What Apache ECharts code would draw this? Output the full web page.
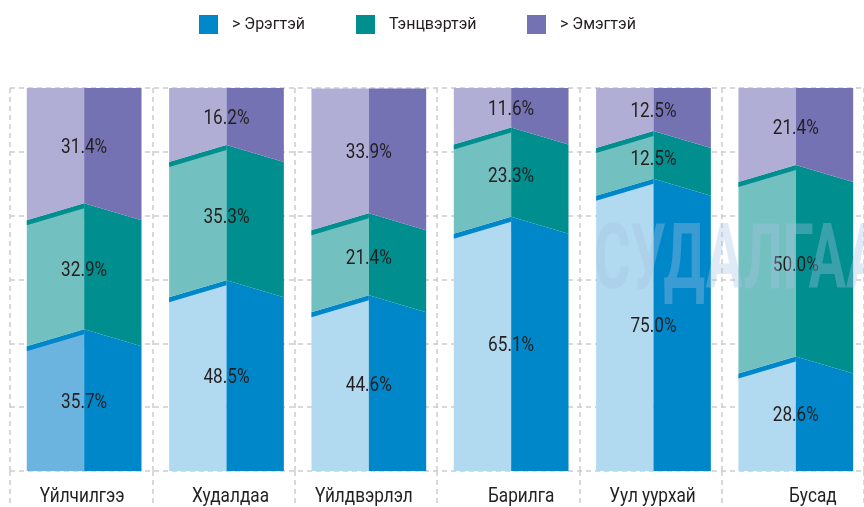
<!DOCTYPE html>
<html>
<head>
<meta charset="utf-8">
<script src="https://cdn.jsdelivr.net/npm/echarts@6/dist/echarts.min.js"></script>
<style>
  html, body { margin: 0; padding: 0; background: #fff; }
  #chart { width: 864px; height: 507px; }
</style>
</head>
<body>
<div id="chart"></div>
<script>
const categories = ['Үйлчилгээ', 'Худалдаа', 'Үйлдвэрлэл', 'Барилга', 'Уул уурхай', 'Бусад']
const seriesNames = ['> Эрэгтэй', 'Тэнцвэртэй', '> Эмэгтэй']
const maleValues = [35.7, 48.5, 44.6, 65.1, 75.0, 28.6]
const equalValues = [32.9, 35.3, 21.4, 23.3, 12.5, 50.0]
const femaleValues = [31.4, 16.2, 33.9, 11.6, 12.5, 21.4]

const font = 'Roboto, "DejaVu Sans", sans-serif'
const textColor = '#231f20'
const gridColor = '#cdcdcd'
const narrow = 0.86
const legendLefts = [199, 356, 527]
// small hand nudges of the category labels, in px
const labelNudge = [1, 7, -2, 13, 2, 20]

// dark = right half, light = left half
const palette = [
  { dark: '#0087ca', light: '#b1d9ef' },
  { dark: '#008e8e', light: '#73c0c0' },
  { dark: '#7572b4', light: '#b1aed5' }
]
const firstBarLight = '#6cb4e0'

const allValues = [maleValues, equalValues, femaleValues]

const narrowText = (x, y, text) => ({
  type: 'text',
  x,
  y,
  scaleX: narrow,
  style: {
    x: 0,
    y: 0,
    text,
    fill: textColor,
    font: '20px ' + font,
    align: 'center',
    verticalAlign: 'middle'
  }
})

const barBox = (api, idx) => {
  const bandW = api.size([1, 0])[0]
  const xStart = api.coord([idx, 0])[0] - bandW / 2
  const xl = xStart + bandW * 0.118
  const w = bandW * 0.806
  return { xl, xr: xl + w, xc: xl + w / 2 }
}

const renderSegment = (params, api) => {
  const k = params.seriesIndex
  const idx = api.value(0)
  const lo = api.value(1)
  const hi = api.value(2)
  const val = api.value(3)

  const { xl, xr, xc } = barBox(api, idx)
  const yLo = api.coord([idx, lo])[1]
  const yHi = api.coord([idx, hi])[1]

  const bApex = k === 0 ? yLo : yLo - 5
  const bEdge = k === 0 ? yLo : yLo + 12
  const tApex = k === 2 ? yHi : yHi - 5
  const tEdge = k === 2 ? yHi : yHi + 12

  const dark = palette[k].dark
  let light = palette[k].light
  if (k === 0 && idx === 0) light = firstBarLight

  const children = [
    {
      type: 'polygon',
      shape: { points: [[xl, bEdge], [xc, bApex], [xc, tApex], [xl, tEdge]] },
      style: { fill: light }
    },
    {
      type: 'polygon',
      shape: { points: [[xc, bApex], [xr, bEdge], [xr, tEdge], [xc, tApex]] },
      style: { fill: dark }
    }
  ]
  if (k !== 2) {
    children.push({
      type: 'polygon',
      shape: { points: [[xl, tEdge], [xc, tApex], [xc, tApex + 5], [xl, tEdge + 5]] },
      style: { fill: dark }
    })
  }
  children.push(narrowText(xc, (yLo + yHi) / 2, val.toFixed(1) + '%'))
  return { type: 'group', children }
}

const renderCategory = (params, api) => {
  const idx = api.value(0)
  const x = api.coord([idx, 0])[0] + labelNudge[idx]
  const y = api.coord([idx, 0])[1] + 26
  return narrowText(x, y, categories[idx])
}

const series = seriesNames.map((name, k) => {
  const data = categories.map((c, i) => {
    let lo = 0
    for (let j = 0; j < k; j++) lo += allValues[j][i]
    return [i, lo, lo + allValues[k][i], allValues[k][i]]
  })
  return {
    name,
    type: 'custom',
    renderItem: renderSegment,
    itemStyle: { color: palette[k].dark },
    encode: { x: 0, y: [1, 2] },
    data
  }
})

series.push({
  name: 'categories',
  type: 'custom',
  renderItem: renderCategory,
  encode: { x: 0, y: 1 },
  data: categories.map((c, i) => [i, 0])
})

const chart = echarts.init(document.getElementById('chart'))

const dashed = { color: gridColor, width: 1.5, type: [5, 4] }

chart.setOption({
  animation: false,
  legend: seriesNames.map((name, k) => ({
    data: [name],
    top: 15,
    left: legendLefts[k],
    padding: 0,
    itemWidth: 19,
    itemHeight: 19,
    icon: 'rect',
    selectedMode: false,
    textStyle: {
      fontFamily: font,
      fontSize: 16,
      color: textColor,
      padding: [0, 0, 0, 9]
    }
  })),
  grid: [
    { left: 10, right: -10, top: 88, bottom: 36 },
    { left: 10, right: -10, top: 471, bottom: 0 }
  ],
  xAxis: [
    {
      type: 'category',
      gridIndex: 0,
      data: categories,
      axisLine: { show: false },
      axisTick: { show: false },
      axisLabel: { show: false },
      splitLine: { show: true, lineStyle: dashed }
    },
    {
      type: 'category',
      gridIndex: 1,
      data: categories,
      axisLine: { show: false },
      axisTick: { show: false },
      axisLabel: { show: false },
      splitLine: { show: true, lineStyle: dashed }
    }
  ],
  yAxis: [
    {
      type: 'value',
      gridIndex: 0,
      min: 0,
      max: 100,
      interval: 100 / 6,
      axisLine: { show: false },
      axisTick: { show: false },
      axisLabel: { show: false },
      splitLine: { lineStyle: dashed }
    },
    {
      type: 'value',
      gridIndex: 1,
      show: false,
      splitLine: { show: false }
    }
  ],
  graphic: [
    {
      type: 'text',
      x: 594,
      y: 220,
      scaleX: 0.62,
      z: 100,
      silent: true,
      style: {
        text: 'СУДАЛГААН',
        font: 'bold 90px ' + font,
        fill: '#a6c4e6',
        opacity: 0.35
      }
    }
  ],
  series
})
</script>
</body>
</html>
